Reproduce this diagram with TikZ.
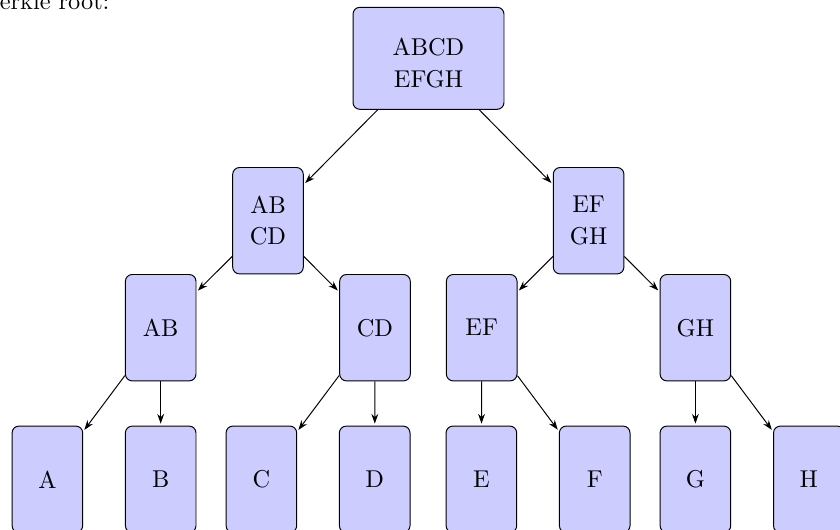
\documentclass[tikz,border=0pt]{standalone}
\usetikzlibrary{arrows.meta}
\begin{document}
\begin{tikzpicture}[x=0.4107pt,y=-0.4107pt,
  box/.style={draw=black, fill=blue!20, rounded corners=2.8pt, minimum width=29pt,
    minimum height=43.7pt, inner sep=0pt, align=center, line width=0.4pt},
  topbox/.style={box, minimum width=62pt, minimum height=41.9pt},
  conn/.style={-{Stealth[length=4pt,width=2.8pt]}, line width=0.4pt, shorten >=0.8pt}]
\useasboundingbox (0,0) rectangle (840,529);
\clip (0,0) rectangle (840,529);
\node[anchor=base east, inner sep=0pt] (lbl) at (110,9.5) {Merkle root:};
\node[topbox] (top) at (428.5,58.3) {};
\node[inner sep=0pt, align=center] (toptxt) at (428.5,63) {ABCD\\[1pt]EFGH};
\node[box] (abcd) at (268,220.7) {AB\\[1pt]CD};
\node[box] (efgh) at (588.6,220.7) {EF\\[1pt]GH};
\node[box] (ab) at (160.7,327.7) {AB};
\node[box] (cd) at (375,327.7) {CD};
\node[box] (ef) at (481.7,327.7) {EF};
\node[box] (gh) at (695.4,327.7) {GH};
\node[box] (a) at (47.4,479.3) {A};
\node[box] (b) at (160.7,479.3) {B};
\node[box] (c) at (261.4,479.3) {C};
\node[box] (d) at (374.7,479.3) {D};
\node[box] (e) at (481.4,479.3) {E};
\node[box] (f) at (594.7,479.3) {F};
\node[box] (g) at (695.4,479.3) {G};
\node[box] (h) at (808.8,479.3) {H};
\draw[conn] (top) -- (abcd);
\draw[conn] (top) -- (efgh);
\draw[conn] (abcd) -- (ab);
\draw[conn] (abcd) -- (cd);
\draw[conn] (efgh) -- (ef);
\draw[conn] (efgh) -- (gh);
\draw[conn] (ab) -- (a);
\draw[conn] (ab) -- (b);
\draw[conn] (cd) -- (c);
\draw[conn] (cd) -- (d);
\draw[conn] (ef) -- (e);
\draw[conn] (ef) -- (f);
\draw[conn] (gh) -- (g);
\draw[conn] (gh) -- (h);
\end{tikzpicture}
\end{document}
